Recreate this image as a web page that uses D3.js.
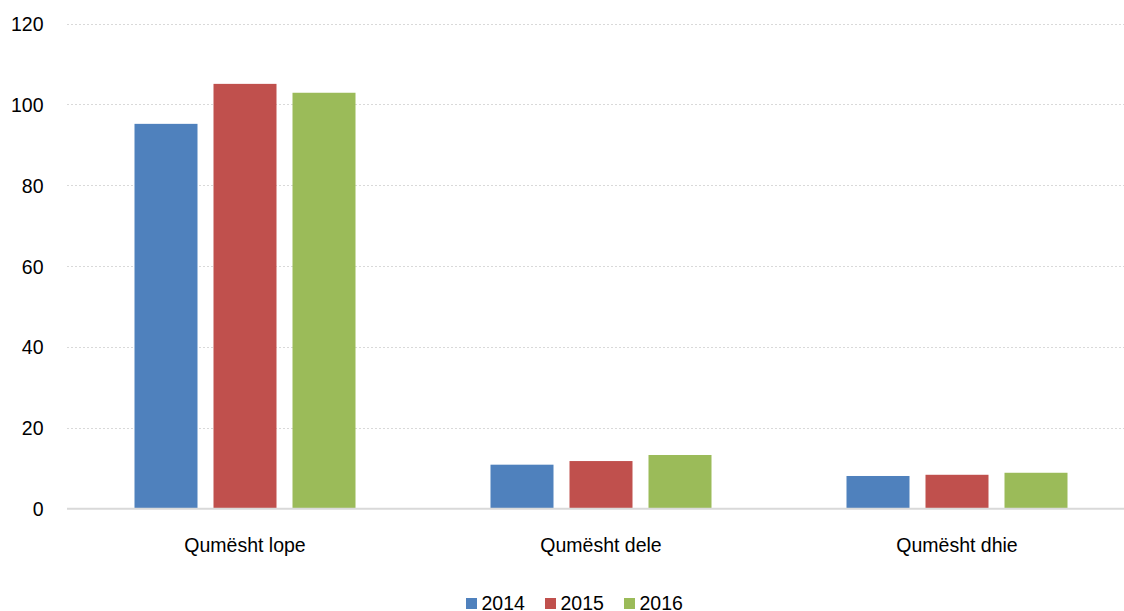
<!DOCTYPE html>
<html>
<head>
<meta charset="utf-8">
<script src="https://cdn.jsdelivr.net/npm/d3@7"></script>
<style>
  html, body { margin: 0; padding: 0; background: #fff; }
  svg { display: block; font-family: "Liberation Sans", Arial, sans-serif; }
</style>
</head>
<body>
<svg id="chart" width="1124" height="611"></svg>
<script>
const categories = ["Qumësht lope", "Qumësht dele", "Qumësht dhie"];
const seriesNames = ["2014", "2015", "2016"];
const values2014 = [95.2, 10.8, 8.0];
const values2015 = [105.1, 11.7, 8.3];
const values2016 = [102.9, 13.2, 8.8];
const yTicks = [0, 20, 40, 60, 80, 100, 120];
const colors = ["#4f81bd", "#c0504d", "#9bbb59"];

const seriesValues = [values2014, values2015, values2016];
const data = categories.map((c, i) => ({
  category: c,
  values: seriesNames.map((s, j) => ({ series: s, value: seriesValues[j][i] }))
}));

const svg = d3.select("#chart");
const plotLeft = 67, plotRight = 1135, plotTop = 23.7, plotBottom = 508.3;

const y = d3.scaleLinear().domain([0, 120]).range([plotBottom, plotTop]);
const x0 = d3.scaleBand().domain(categories).range([plotLeft, plotRight]).padding(0);
const groupW = 221;
const x1 = d3.scaleBand().domain(seriesNames)
  .range([(x0.bandwidth() - groupW) / 2, (x0.bandwidth() + groupW) / 2])
  .paddingInner(16 / 79).paddingOuter(0);
const color = d3.scaleOrdinal().domain(seriesNames).range(colors);

// gridlines
svg.append("g")
  .selectAll("line")
  .data(yTicks.filter(d => d > 0))
  .join("line")
  .attr("x1", plotLeft).attr("x2", 1124)
  .attr("y1", d => Math.round(y(d)) + 0.5).attr("y2", d => Math.round(y(d)) + 0.5)
  .attr("stroke", "#d9d9d9").attr("stroke-width", 1)
  .attr("stroke-dasharray", "2,2");

// y labels
const yAxis = d3.axisLeft(y).tickValues(yTicks).tickSize(0).tickPadding(0);
const gy = svg.append("g").attr("transform", `translate(43.5,0)`).call(yAxis);
gy.select(".domain").remove();
gy.selectAll("text")
  .attr("font-size", "19.5px")
  .attr("fill", "#000")
  .attr("font-family", "Liberation Sans, Arial, sans-serif")
  .attr("dy", "0.36em");

// bars
const groups = svg.append("g").selectAll("g")
  .data(data)
  .join("g")
  .attr("transform", d => `translate(${x0(d.category)},0)`);
groups.selectAll("rect")
  .data(d => d.values)
  .join("rect")
  .attr("x", d => x1(d.series))
  .attr("width", x1.bandwidth())
  .attr("y", d => y(d.value))
  .attr("height", d => y(0) - y(d.value))
  .attr("fill", d => color(d.series));

// x axis line
svg.append("line")
  .attr("x1", plotLeft).attr("x2", 1124)
  .attr("y1", plotBottom + 0.5).attr("y2", plotBottom + 0.5)
  .attr("stroke", "#d9d9d9").attr("stroke-width", 2);

// category labels
const xAxis = d3.axisBottom(x0).tickSize(0).tickPadding(0);
const gx = svg.append("g").attr("transform", `translate(0,${plotBottom})`).call(xAxis);
gx.select(".domain").remove();
gx.selectAll("text")
  .attr("font-size", "19.5px")
  .attr("fill", "#000")
  .attr("font-family", "Liberation Sans, Arial, sans-serif")
  .attr("dy", null)
  .attr("y", 44);

// legend
const legend = svg.append("g").selectAll("g")
  .data(seriesNames)
  .join("g")
  .attr("transform", (d, i) => `translate(${466 + i * 79},0)`);
legend.append("rect")
  .attr("x", 0).attr("y", 598).attr("width", 11).attr("height", 11)
  .attr("fill", d => color(d));
legend.append("text")
  .attr("x", 15.5).attr("y", 610)
  .attr("font-size", "19.5px")
  .attr("fill", "#000")
  .text(d => d);
</script>
</body>
</html>
